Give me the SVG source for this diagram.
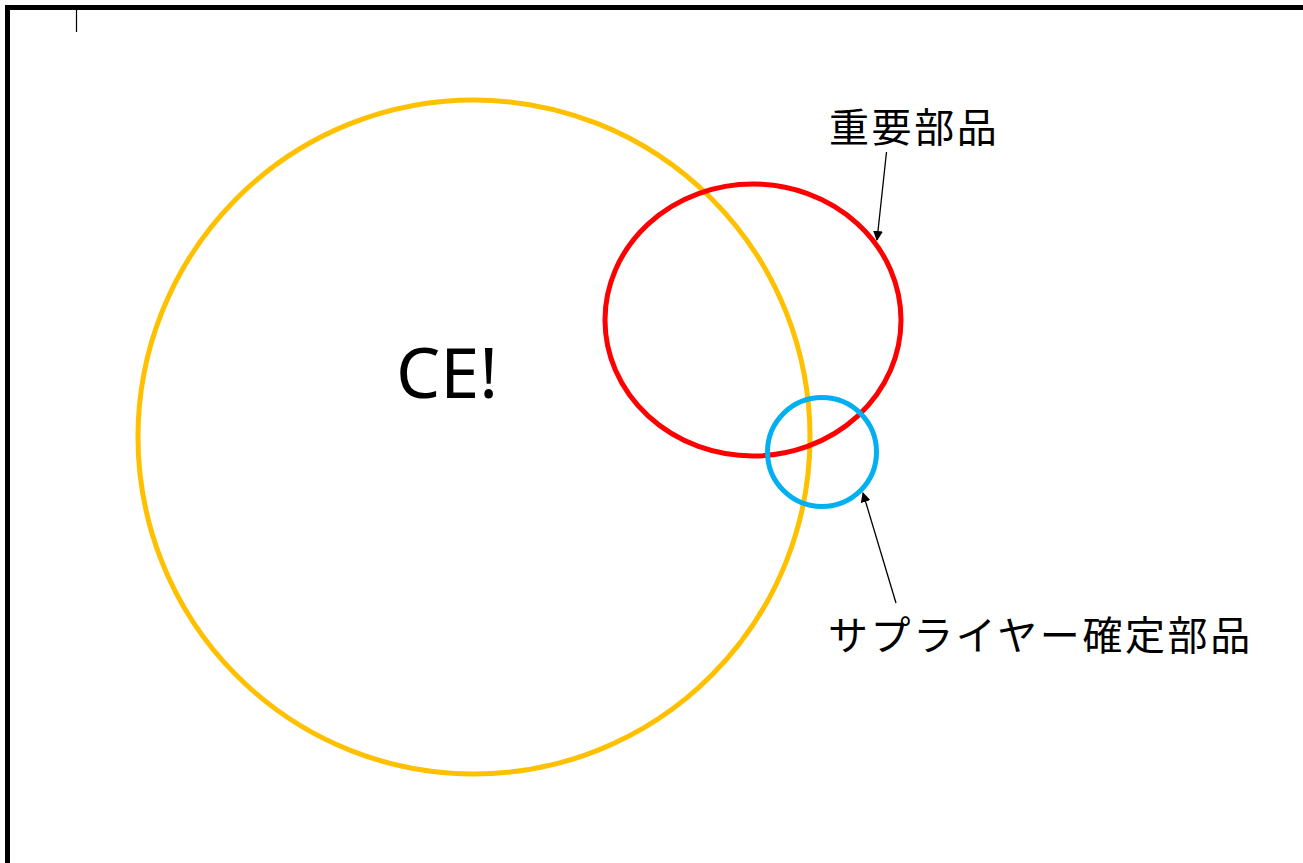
<svg xmlns="http://www.w3.org/2000/svg" width="1303" height="863" viewBox="0 0 1303 863">
<defs>
<style>
.lbl{font-family:"Noto Sans CJK JP","Noto Sans",sans-serif;font-size:40px;fill:#000;letter-spacing:2.6px}
.conn{stroke:#000;stroke-width:1.3;fill:none}
</style>
<marker id="ah" markerWidth="10" markerHeight="10" refX="9" refY="5" orient="auto" markerUnits="userSpaceOnUse" viewBox="0 0 10 10">
<path d="M0,0 L10,5 L0,10 z" fill="#000"/>
</marker>
</defs>
<rect width="1303" height="863" fill="#fff"/>
<rect x="7.5" y="7.5" width="1310" height="880" fill="none" stroke="#000" stroke-width="5"/>
<line x1="76.5" y1="10" x2="76.5" y2="32" stroke="#000" stroke-width="1.2"/>
<g id="ce">
<ellipse cx="474" cy="437" rx="336" ry="337" fill="none" stroke="#FFC000" stroke-width="5"/>
<text x="447" y="398" text-anchor="middle" font-family="'Noto Sans','Open Sans',sans-serif" font-size="70">CE!</text>
</g>
<g id="important">
<ellipse cx="753" cy="320" rx="148" ry="136" fill="none" stroke="#FF0000" stroke-width="5"/>
<text class="lbl" x="829" y="142">重要部品</text>
</g>
<g id="supplier">
<circle cx="822" cy="452" r="54.5" fill="none" stroke="#00B0F0" stroke-width="5"/>
<text class="lbl" x="828" y="650">サプライヤー確定部品</text>
</g>
<g id="connectors">
<line class="conn" x1="886.5" y1="152" x2="877" y2="240" marker-end="url(#ah)"/>
<line class="conn" x1="896" y1="603" x2="863" y2="493" marker-end="url(#ah)"/>
</g>
</svg>
